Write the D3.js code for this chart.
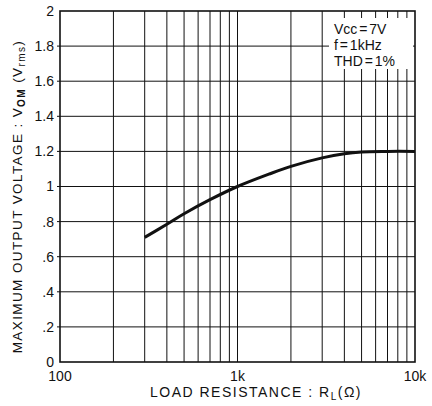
<!DOCTYPE html>
<html>
<head>
<meta charset="utf-8">
<script src="https://cdn.jsdelivr.net/npm/d3@7"></script>
<style>
  body { margin: 0; background: #fff; }
  text { font-family: "Liberation Sans", Arial, sans-serif; fill: #111; }
</style>
</head>
<body>
<div id="chart"></div>
<script>
// dimensions du graphique
const width = 432;
const height = 406;
const margin = { top: 11, right: 17, bottom: 44, left: 60 };

// donnees
const loadOhms = [300, 400, 500, 700, 1000, 1500, 2000, 3000, 4000, 5000, 7000, 10000];
const voltage = [0.71, 0.785, 0.845, 0.925, 1.0, 1.07, 1.115, 1.163, 1.187, 1.197, 1.2, 1.2];

const yTicks = [0, 0.2, 0.4, 0.6, 0.8, 1, 1.2, 1.4, 1.6, 1.8, 2];
const yTickLabels = ["0", ".2", ".4", ".6", ".8", "1", "1.2", "1.4", "1.6", "1.8", "2"];
const xTicks = [100, 1000, 10000];
const xTickLabels = ["100", "1k", "10k"];
const conditions = ["Vcc = 7V", "f = 1kHz", "THD = 1%"];

const svg = d3.select("#chart").append("svg")
    .attr("width", width)
    .attr("height", height);

const w = width - margin.left - margin.right;
const h = height - margin.top - margin.bottom;
const g = svg.append("g").attr("transform", `translate(${margin.left},${margin.top})`);

const x = d3.scaleLog().domain([100, 10000]).range([0, w]);
const y = d3.scaleLinear().domain([0, 2]).range([h, 0]);

// grille verticale (2..9 de chaque decade)
const minorX = [];
[100, 1000].forEach(dec => {
    for (let k = 2; k <= 9; k++) minorX.push(dec * k);
});
minorX.push(1000);

g.selectAll(".vgrid")
    .data(minorX)
    .enter().append("line")
    .attr("x1", d => x(d)).attr("x2", d => x(d))
    .attr("y1", 0).attr("y2", h)
    .attr("stroke", "#111").attr("stroke-width", 1);

g.selectAll(".hgrid")
    .data(yTicks.slice(1, -1))
    .enter().append("line")
    .attr("x1", -3).attr("x2", w)
    .attr("y1", d => y(d)).attr("y2", d => y(d))
    .attr("stroke", "#111").attr("stroke-width", 1);

// cadre
g.append("rect")
    .attr("width", w).attr("height", h)
    .attr("fill", "none").attr("stroke", "#111").attr("stroke-width", 1.6);

// encadre des conditions
const box = g.append("g").attr("transform", `translate(${w - 86},7)`);
box.append("rect")
    .attr("x", 0).attr("y", 0).attr("width", 84).attr("height", 51)
    .attr("fill", "#fff");
box.selectAll("text")
    .data(conditions)
    .enter().append("text")
    .attr("x", 5)
    .attr("y", (d, i) => 16 + i * 16)
    .style("font-size", "14px")
    .style("word-spacing", "-2px")
    .text(d => d);

// courbe
const line = d3.line()
    .x((d, i) => x(loadOhms[i]))
    .y(d => y(d))
    .curve(d3.curveCatmullRom.alpha(0.5));

g.append("path")
    .datum(voltage)
    .attr("d", line)
    .attr("fill", "none")
    .attr("stroke", "#111")
    .attr("stroke-width", 3);

// etiquettes des axes
g.selectAll(".ylab")
    .data(yTicks)
    .enter().append("text")
    .attr("x", -6)
    .attr("y", d => y(d))
    .attr("dy", "0.35em")
    .style("text-anchor", "end")
    .style("font-size", "14px")
    .text((d, i) => yTickLabels[i]);

g.selectAll(".xlab")
    .data(xTicks)
    .enter().append("text")
    .attr("x", d => x(d))
    .attr("y", h + 19)
    .style("text-anchor", "middle")
    .style("font-size", "14px")
    .text((d, i) => xTickLabels[i]);

// titre axe x
const xt = svg.append("text")
    .attr("x", 256)
    .attr("y", 397)
    .style("text-anchor", "middle")
    .style("font-size", "14px")
    .style("letter-spacing", "1.5px");
xt.append("tspan").text("LOAD  RESISTANCE : R");
xt.append("tspan").attr("dy", 3).style("font-size", "10px").text("L");
xt.append("tspan").attr("dy", -3).text("(Ω)");

// titre axe y
const yt = svg.append("text")
    .attr("transform", `translate(22,${margin.top + h / 2 + 10}) rotate(-90)`)
    .style("text-anchor", "middle")
    .style("font-size", "13.5px")
    .style("letter-spacing", "1.4px");
yt.append("tspan").text("MAXIMUM  OUTPUT  VOLTAGE : V");
yt.append("tspan").attr("dy", 3).style("font-size", "10px").style("font-weight", "bold").text("OM");
yt.append("tspan").attr("dy", -3).text(" (V");
yt.append("tspan").attr("dy", 3).style("font-size", "10px").text("rms");
yt.append("tspan").attr("dy", -3).text(")");
</script>
</body>
</html>
